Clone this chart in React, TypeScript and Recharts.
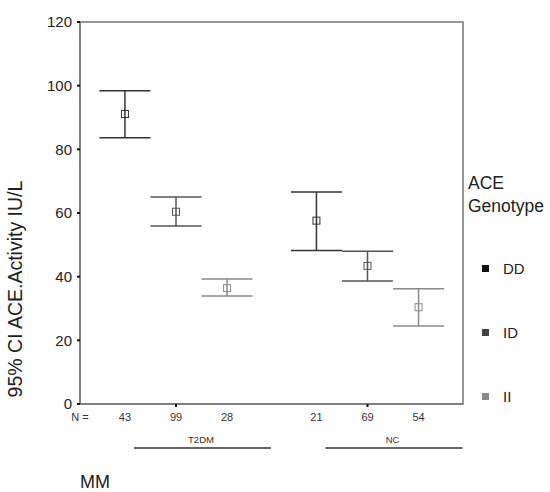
import { ComposedChart, Scatter, ErrorBar, XAxis, YAxis, ReferenceArea, Legend } from "recharts";

const groups = ["T2DM", "NC"];
const genotypes = ["DD", "ID", "II"];

// 95% CI of ACE activity (IU/L), index 0 = T2DM, 1 = NC
const ddMean = [91.1, 57.6];
const ddLow = [83.6, 48.2];
const ddHigh = [98.4, 66.6];
const idMean = [60.4, 43.4];
const idLow = [55.9, 38.6];
const idHigh = [65.0, 48.0];
const iiMean = [36.4, 30.4];
const iiLow = [33.9, 24.5];
const iiHigh = [39.3, 36.2];

const t2dmN = [43, 99, 28];
const ncN = [21, 69, 54];

const yTicks = [0, 20, 40, 60, 80, 100, 120];

const FONT = "'Liberation Sans', Arial, sans-serif";
const barColors = ["#333", "#555", "#8a8a8a"];
const keyColors = ["#111", "#444", "#8a8a8a"];

// layout of the x positions (axis units)
const X_MAX = 7.5;
const xPos = (g: number, k: number) => 0.88 + k + g * 3.75;

const buildSeries = (mean: number[], low: number[], high: number[], k: number) =>
  mean.map((m, g) => ({ x: xPos(g, k), y: m, err: [m - low[g], high[g] - m] }));

const series = [
  buildSeries(ddMean, ddLow, ddHigh, 0),
  buildSeries(idMean, idLow, idHigh, 1),
  buildSeries(iiMean, iiLow, iiHigh, 2),
];

const nLabels = ["N =", ...t2dmN.map(String), ...ncN.map(String)];
const nTicks = [0, ...groups.flatMap((_, g) => genotypes.map((_, k) => xPos(g, k)))];

const NTick = (props: any) => {
  const { x, y, index } = props;
  const isMid = index === 2 || index === 5;
  const group = groups[index === 2 ? 0 : 1];
  return (
    <g>
      {isMid && <line x1={x} x2={x} y1={y} y2={y + 3} stroke="#111" strokeWidth={2} />}
      <text x={x} y={y + 17} textAnchor="middle" fontSize={11} fontFamily={FONT} fill="#333">
        {nLabels[index]}
      </text>
      {isMid && (
        <g>
          <text x={x + 25} y={y + 39} textAnchor="middle" fontSize={9.5} fontFamily={FONT} fill="#333">
            {group}
          </text>
          <line x1={x - 42} x2={x + 95} y1={y + 44} y2={y + 44} stroke="#666" strokeWidth={2} />
        </g>
      )}
    </g>
  );
};

const Square = (color: string) => (props: any) => (
  <rect x={props.cx - 3.5} y={props.cy - 3.5} width={7} height={7} fill="none" stroke={color} strokeWidth={1} />
);

const GenotypeKey = () => (
  <div style={{ fontFamily: FONT, color: "#222" }}>
    <div style={{ fontSize: 17.5, lineHeight: "23px", color: "#222" }}>ACE</div>
    <div style={{ fontSize: 17.5, lineHeight: "23px", color: "#222" }}>Genotype</div>
    {genotypes.map((g, i) => (
      <div key={g} style={{ display: "flex", alignItems: "center", marginTop: i === 0 ? 42 : 47, height: 17 }}>
        <span style={{ display: "inline-block", width: 7, height: 7, background: keyColors[i], marginLeft: 14, marginRight: 14 }} />
        <span style={{ fontSize: 15, color: "#222" }}>{g}</span>
      </div>
    ))}
  </div>
);

export default function App() {
  return (
    <div style={{ position: "absolute", left: 0, top: 0, width: 550, height: 492, background: "#fff" }}>
      <ComposedChart width={550} height={492} margin={{ top: 22, right: 87, bottom: 38, left: 0 }}>
        <XAxis
          xAxisId="n"
          dataKey="x"
          type="number"
          domain={[0, X_MAX]}
          ticks={nTicks}
          interval={0}
          tickLine={false}
          tickSize={0}
          tickMargin={0}
          height={50}
          axisLine={{ stroke: "#777", strokeWidth: 1.5 }}
          tick={<NTick />}
        />
        <YAxis
          dataKey="y"
          type="number"
          domain={[0, 120]}
          ticks={yTicks}
          interval={0}
          width={80}
          tickSize={3}
          tickMargin={5}
          tickLine={{ stroke: "#111", strokeWidth: 2 }}
          axisLine={{ stroke: "#777", strokeWidth: 1.5 }}
          tick={{ fontSize: 15, fontFamily: FONT, fill: "#222" }}
          label={{
            content: () => (
              <text
                x={22}
                y={289}
                transform="rotate(-90 22 289)"
                textAnchor="middle"
                fontSize={19.5}
                fontFamily={FONT}
                fill="#222"
              >
                95% CI ACE.Activity IU/L
              </text>
            ),
          }}
        />
        <ReferenceArea xAxisId="n" x1={0} x2={X_MAX} y1={0} y2={120} fill="none" stroke="#777" strokeWidth={1.5} />
        {series.map((data, i) => (
          <Scatter
            key={genotypes[i]}
            name={genotypes[i]}
            xAxisId="n"
            data={data}
            dataKey="y"
            shape={Square(barColors[i])}
            isAnimationActive={false}
          >
            <ErrorBar dataKey="err" direction="y" width={25.5} stroke={barColors[i]} strokeWidth={1.5} isAnimationActive={false} />
          </Scatter>
        ))}
        <Legend
          layout="vertical"
          align="center"
          verticalAlign="middle"
          content={<GenotypeKey />}
          wrapperStyle={{ position: "absolute", left: 468, top: 172, width: 82, height: 240 }}
        />
      </ComposedChart>
      <div style={{ position: "absolute", left: 80, top: 472, fontFamily: FONT, fontSize: 18, color: "#222" }}>MM</div>
    </div>
  );
}
